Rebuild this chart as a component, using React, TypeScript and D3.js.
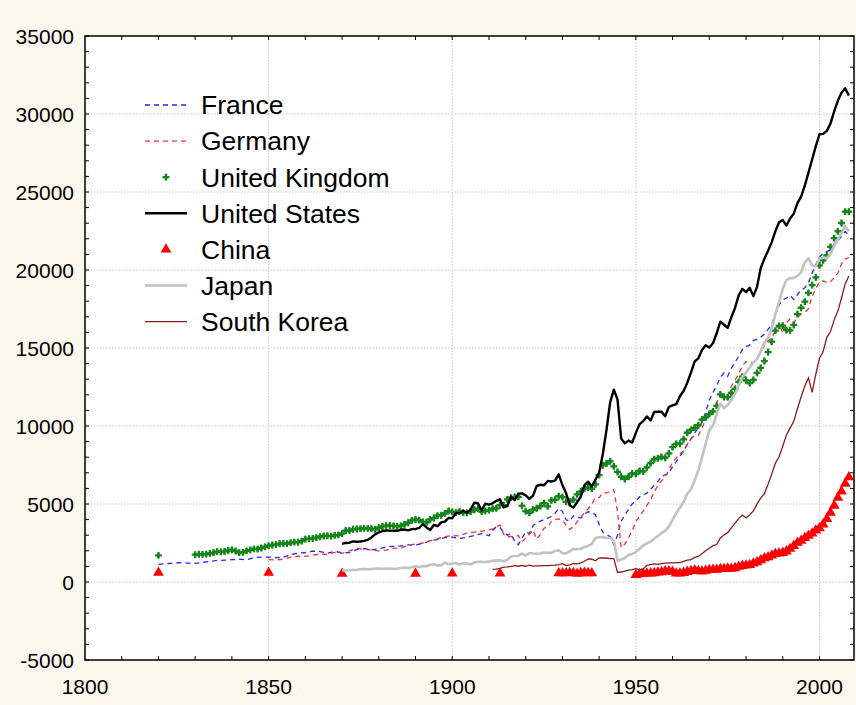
import React from "react";
import * as d3 from "d3";

// ---------- DATA (GDP per capita, 1990 GK$) ----------
const xTicks = [1800, 1850, 1900, 1950, 2000];
const yTicks = [-5000, 0, 5000, 10000, 15000, 20000, 25000, 30000, 35000];
const legendNames = ["France", "Germany", "United Kingdom", "United States", "China", "Japan", "South Korea"];

const franceData: [number, number][] = [
  [1820, 1135], [1822, 1180], [1824, 1200], [1826, 1240], [1828, 1210], [1830, 1191], [1832, 1260], [1834, 1320],
  [1836, 1380], [1838, 1400], [1840, 1428], [1842, 1460], [1844, 1420], [1846, 1560], [1848, 1600], [1850, 1597],
  [1852, 1560], [1854, 1580], [1856, 1760], [1858, 1850], [1860, 1892], [1862, 1980], [1864, 1950], [1866, 1850],
  [1868, 1960], [1870, 1876], [1872, 1880], [1874, 2080], [1876, 2140], [1878, 2060], [1880, 2120], [1882, 2250],
  [1884, 2290], [1886, 2300], [1888, 2380], [1890, 2376], [1892, 2460], [1894, 2660], [1896, 2720], [1898, 2850],
  [1900, 2876], [1902, 2800], [1904, 2860], [1906, 2990], [1908, 3100], [1910, 2965], [1911, 3300], [1912, 3545],
  [1913, 3485], [1914, 3200], [1915, 3000], [1916, 3100], [1917, 2600], [1918, 2396], [1919, 2800], [1920, 3227],
  [1921, 3100], [1922, 3600], [1923, 3800], [1924, 3900], [1925, 4000], [1926, 4100], [1927, 4200], [1928, 4400],
  [1929, 4710], [1930, 4530], [1931, 3990], [1932, 3900], [1933, 4250], [1934, 4150], [1935, 4100], [1936, 4350],
  [1937, 4500], [1938, 4466], [1939, 4300], [1940, 3700], [1941, 3200], [1942, 3050], [1943, 2900], [1944, 2400],
  [1945, 3000], [1946, 3900], [1947, 4300], [1948, 4650], [1949, 5000],
  [1950, 5186], [1951, 5461], [1952, 5588], [1953, 5698], [1954, 5938], [1955, 6199], [1956, 6452], [1957, 6770],
  [1958, 6876], [1959, 6991], [1960, 7398], [1961, 7718], [1962, 8061], [1963, 8382], [1964, 8828], [1965, 9165],
  [1966, 9536], [1967, 9885], [1968, 10255], [1969, 10872], [1970, 11664], [1971, 12151], [1972, 12578], [1973, 13114],
  [1974, 13402], [1975, 13183], [1976, 13698], [1977, 14076], [1978, 14462], [1979, 14897], [1980, 15106], [1981, 15180],
  [1982, 15486], [1983, 15546], [1984, 15685], [1985, 15900], [1986, 16196], [1987, 16515], [1988, 17181], [1989, 17754],
  [1990, 18093], [1991, 18203], [1992, 18368], [1993, 18108], [1994, 18427], [1995, 18705], [1996, 18860], [1997, 19182],
  [1998, 19800], [1999, 20332], [2000, 20808], [2001, 21092], [2002, 21197], [2003, 21259], [2004, 21657], [2005, 21867],
  [2006, 22150], [2007, 22469], [2008, 22223],
];

const germanyData: [number, number][] = [
  [1850, 1428], [1852, 1420], [1854, 1450], [1856, 1600], [1858, 1650], [1860, 1639], [1862, 1720], [1864, 1800],
  [1866, 1760], [1868, 1900], [1870, 1839], [1872, 2000], [1874, 2150], [1876, 2100], [1878, 2050], [1880, 1991],
  [1882, 2050], [1884, 2150], [1886, 2180], [1888, 2350], [1890, 2428], [1892, 2500], [1894, 2650], [1896, 2780],
  [1898, 2900], [1900, 2985], [1902, 2950], [1904, 3150], [1906, 3200], [1908, 3250], [1910, 3348], [1911, 3410],
  [1912, 3550], [1913, 3648], [1914, 3059], [1915, 2899], [1916, 2919], [1917, 2902], [1918, 2983], [1919, 2586],
  [1920, 2796], [1921, 3063], [1922, 3326], [1923, 2747], [1924, 3056], [1925, 3452], [1926, 3512], [1927, 3900],
  [1928, 4000], [1929, 4051], [1930, 3973], [1931, 3652], [1932, 3362], [1933, 3556], [1934, 3858], [1935, 4120],
  [1936, 4451], [1937, 4685], [1938, 4994], [1939, 5406], [1940, 5403], [1941, 5711], [1942, 5710], [1943, 5787],
  [1944, 5925], [1945, 4514], [1946, 2217], [1947, 2436], [1948, 2834], [1949, 3282],
  [1950, 3881], [1951, 4206], [1952, 4553], [1953, 4905], [1954, 5247], [1955, 5797], [1956, 6177], [1957, 6492],
  [1958, 6737], [1959, 7177], [1960, 7705], [1961, 7952], [1962, 8222], [1963, 8386], [1964, 8822], [1965, 9186],
  [1966, 9388], [1967, 9397], [1968, 9864], [1969, 10440], [1970, 10839], [1971, 11077], [1972, 11481], [1973, 11966],
  [1974, 11994], [1975, 11901], [1976, 12548], [1977, 12951], [1978, 13328], [1979, 13868], [1980, 14114], [1981, 14149],
  [1982, 14040], [1983, 14329], [1984, 14766], [1985, 15140], [1986, 15469], [1987, 15627], [1988, 16138], [1989, 16558],
  [1990, 15929], [1991, 16604], [1992, 16871], [1993, 16614], [1994, 16969], [1995, 17181], [1996, 17271], [1997, 17521],
  [1998, 18300], [1999, 18800], [2000, 19250], [2001, 19300], [2002, 19200], [2003, 19250], [2004, 19500], [2005, 19800],
  [2006, 20400], [2007, 20700], [2008, 20800],
];

const ukStart = 1830;
const ukFirstPoint: [number, number] = [1820, 1706];
const ukValues = [
  1749, 1780, 1770, 1790, 1830, 1880, 1950, 1930, 1960, 2020,
  2060, 1990, 1880, 1900, 2000, 2060, 2120, 2110, 2180, 2250,
  2330, 2370, 2400, 2450, 2470, 2460, 2520, 2560, 2550, 2620,
  2750, 2780, 2790, 2840, 2900, 2950, 2960, 2940, 2990, 3020,
  3100, 3300, 3300, 3380, 3400, 3420, 3440, 3440, 3420, 3380,
  3477, 3560, 3610, 3620, 3600, 3570, 3600, 3690, 3800, 3950,
  4009, 3970, 3850, 3830, 4010, 4100, 4250, 4280, 4400, 4550,
  4492, 4450, 4530, 4450, 4430, 4520, 4630, 4700, 4520, 4560,
  4611, 4700, 4720, 4921, 4930, 5290, 5410, 5450, 5459, 4880,
  4548, 4439, 4640, 4730, 4870, 5060, 4850, 5230, 5270, 5503,
  5441, 5138, 5148, 5277, 5620, 5800, 5990, 6060, 5983, 6262,
  6856, 7482, 7591, 7741, 7414, 7056, 6746, 6604, 6746, 6956,
  6939, 7123, 7091, 7346, 7619, 7868, 7929, 8017, 7966, 8240,
  8645, 8857, 8865, 9149, 9568, 9752, 9885, 10049, 10410, 10552,
  10767, 10941, 11294, 12025, 11859, 11847, 12115, 12384, 12828, 13167,
  12931, 12747, 12955, 13404, 13720, 14165, 14742, 15403, 16110, 16414,
  16430, 16146, 16133, 16477, 17175, 17581, 17974, 18533, 19032, 19524,
  20296, 20624, 20931, 21483, 22040, 22484, 23013, 23742, 23742,
];

const usStart = 1870;
const usValues = [
  2445, 2503, 2520, 2601, 2583, 2599, 2640, 2701, 2860, 3051,
  3184, 3268, 3301, 3295, 3285, 3281, 3348, 3363, 3313, 3393,
  3392, 3472, 3717, 3499, 3337, 3669, 3576, 3823, 3871, 4110,
  4091, 4434, 4409, 4567, 4439, 4642, 5076, 5052, 4585, 5017,
  4964, 5046, 5201, 5301, 4799, 4864, 5459, 5248, 5659, 5680,
  5552, 5323, 5540, 6164, 6233, 6198, 6481, 6445, 6494, 6899,
  6213, 5691, 4908, 4777, 5114, 5467, 6204, 6430, 6126, 6561,
  7010, 8206, 9741, 11518, 12333, 11709, 9197, 8886, 9065, 8944,
  9561, 10116, 10316, 10613, 10359, 10897, 10914, 10920, 10631, 11230,
  11328, 11402, 11905, 12242, 12773, 13419, 14134, 14330, 14863, 15179,
  15030, 15304, 15944, 16689, 16491, 16284, 16975, 17567, 18373, 18789,
  18577, 18856, 18325, 18920, 20123, 20717, 21236, 21788, 22499, 23059,
  23201, 22849, 23298, 23616, 24288, 24703, 25403, 26245, 27086, 27944,
  28702, 28726, 28920, 29388, 30175, 30842, 31358, 31655, 31178,
];

const chinaData: [number, number][] = [
  [1820, 600], [1850, 600], [1870, 530], [1890, 540], [1900, 545], [1913, 552],
  [1929, 562], [1930, 567], [1931, 569], [1932, 587], [1933, 578], [1934, 528], [1935, 575], [1936, 593], [1937, 573], [1938, 562],
  [1950, 448], [1951, 496], [1952, 538], [1953, 552], [1954, 556], [1955, 575], [1956, 619], [1957, 637], [1958, 693], [1959, 697],
  [1960, 662], [1961, 553], [1962, 550], [1963, 590], [1964, 654], [1965, 706], [1966, 753], [1967, 715], [1968, 678], [1969, 722],
  [1970, 778], [1971, 793], [1972, 796], [1973, 839], [1974, 836], [1975, 874], [1976, 852], [1977, 895], [1978, 978], [1979, 1039],
  [1980, 1061], [1981, 1091], [1982, 1186], [1983, 1265], [1984, 1396], [1985, 1522], [1986, 1597], [1987, 1706], [1988, 1816], [1989, 1827],
  [1990, 1871], [1991, 1967], [1992, 2132], [1993, 2312], [1994, 2515], [1995, 2653], [1996, 2820], [1997, 2973], [1998, 3117], [1999, 3300],
  [2000, 3450], [2001, 3700], [2002, 4050], [2003, 4450], [2004, 4900], [2005, 5400], [2006, 5800], [2007, 6300], [2008, 6725],
];

const japanStart = 1870;
const japanValues = [
  737, 740, 750, 770, 790, 820, 830, 820, 830, 860,
  863, 850, 860, 860, 850, 854, 900, 930, 900, 940,
  1012, 957, 1030, 1015, 1110, 1135, 1050, 1080, 1250, 1140,
  1180, 1220, 1120, 1200, 1190, 1130, 1260, 1300, 1290, 1280,
  1304, 1356, 1384, 1387, 1327, 1430, 1630, 1665, 1668, 1827,
  1696, 1860, 1831, 1809, 1831, 1885, 1872, 1870, 1991, 2026,
  1850, 1837, 1962, 2122, 2098, 2120, 2244, 2315, 2449, 2816,
  2874, 2873, 2818, 2822, 2659, 1346, 1444, 1541, 1725, 1800,
  1921, 2126, 2336, 2474, 2582, 2771, 2948, 3136, 3289, 3554,
  3986, 4426, 4777, 5129, 5668, 5934, 6506, 7152, 7983, 8874,
  9714, 10040, 10734, 11434, 11145, 11344, 11669, 12064, 12585, 13163,
  13428, 13754, 14078, 14307, 14773, 15331, 15679, 16251, 17185, 17943,
  18789, 19355, 19482, 19478, 19626, 19849, 20494, 20739, 20296, 20219,
  20738, 20781, 20751, 21025, 21540, 21929, 22386, 22816, 22468,
];

const koreaStart = 1911;
const koreaValues = [
  815, 822, 869, 948, 966, 1003, 1052, 1010, 1060,
  1009, 1079, 1021, 1033, 1030, 1050, 1048, 1072, 1087, 1117,
  1173, 1048, 1090, 1186, 1168, 1227, 1329, 1482, 1459, 1363,
  1550, 1538, 1537, 1505, 1497, 616, 640, 700, 760, 800,
  854, 799, 836, 1072, 1115, 1156, 1132, 1182, 1216, 1226,
  1226, 1247, 1245, 1316, 1396, 1436, 1580, 1640, 1809, 2000,
  2167, 2328, 2404, 2824, 3015, 3162, 3476, 3775, 4064, 4294,
  4114, 4302, 4557, 5007, 5375, 5670, 6263, 6916, 7621, 8027,
  8704, 9425, 9863, 10300, 11104, 11873, 12559, 13083, 12151, 13318,
  14343, 14773, 15684, 16052, 16804, 17364, 18202, 19107, 19614,
];

// ---------- LAYOUT ----------
const W = 856;
const H = 705;
const L = 85, R = 854, T = 36, B = 660;
const FONT = "'Liberation Sans', Arial, sans-serif";

const x = d3.scaleLinear().domain([1800, 2009.4]).range([L, R]);
const y = d3.scaleLinear().domain([-5000, 35000]).range([B, T]);

const toPairs = (start: number, vals: number[]): [number, number][] => vals.map((v, i) => [start + i, v]);

const ukData: [number, number][] = [ukFirstPoint, ...toPairs(ukStart, ukValues)];
const usData = toPairs(usStart, usValues);
const japanData = toPairs(japanStart, japanValues);
const koreaData = toPairs(koreaStart, koreaValues);

const line = d3.line<[number, number]>().x((d) => x(d[0])).y((d) => y(d[1]));

const COLORS = {
  france: "#2626ff",
  germany: "#f0303a",
  uk: "#14861a",
  us: "#000000",
  china: "#ff0000",
  japan: "#c2c2c2",
  korea: "#8b1c1c",
};

const crossPath = d3.symbol(d3.symbolCross, 26)() as string;
const diamondPath = d3.symbol(d3.symbolDiamond, 14)() as string;
const triPath = d3.symbol(d3.symbolTriangle, 50)() as string;

function UKMarker({ tx, ty }: { tx: number; ty: number }) {
  return (
    <g transform={`translate(${tx},${ty})`}>
      <path d={crossPath} />
      <path d={diamondPath} />
    </g>
  );
}

export default function App() {
  const xMinor = d3.range(1810, 2009, 10);
  const yMinor = d3.range(-5000, 35001, 1000);
  const xGrid = xTicks.filter((t) => t > 1800);
  const yGrid = yTicks.filter((t) => t > -5000 && t < 35000);

  const legendY = (i: number) => 105 + i * 36.1;

  return (
    <svg width={W} height={H} style={{ position: "absolute", left: 0, top: 0, display: "block" }} fontFamily={FONT}>
      <rect x={0} y={0} width={W} height={H} fill="#fcf8ee" />
      <rect x={L} y={T} width={R - L} height={B - T} fill="#ffffff" />

      {/* grid */}
      {xGrid.map((t) => (
        <line key={"gx" + t} x1={x(t)} x2={x(t)} y1={T} y2={B} stroke="#bdbdbd" strokeWidth={0.8} strokeDasharray="1.5,1.5" />
      ))}
      {yGrid.map((t) => (
        <line key={"gy" + t} x1={L} x2={R} y1={y(t)} y2={y(t)} stroke="#bdbdbd" strokeWidth={0.8} strokeDasharray="1.5,1.5" />
      ))}

      {/* series */}
      <path d={line(franceData) as string} fill="none" stroke={COLORS.france} strokeWidth={1.3} strokeDasharray="5,4" />
      <path d={line(germanyData) as string} fill="none" stroke={COLORS.germany} strokeWidth={1.3} strokeDasharray="5,4" />
      <g fill={COLORS.uk}>
        {ukData.map((d, i) => (
          <UKMarker key={"uk" + i} tx={x(d[0])} ty={y(d[1])} />
        ))}
      </g>
      <path d={line(usData) as string} fill="none" stroke={COLORS.us} strokeWidth={2.4} strokeLinejoin="round" />
      <g fill={COLORS.china}>
        {chinaData.map((d, i) => (
          <path key={"cn" + i} d={triPath} transform={`translate(${x(d[0])},${y(d[1])})`} />
        ))}
      </g>
      <path d={line(japanData) as string} fill="none" stroke={COLORS.japan} strokeWidth={2.6} strokeLinejoin="round" />
      <path d={line(koreaData) as string} fill="none" stroke={COLORS.korea} strokeWidth={1.3} />

      {/* frame & ticks */}
      <rect x={L} y={T} width={R - L} height={B - T} fill="none" stroke="#000" strokeWidth={1.5} />
      {xMinor.map((t) => (
        <g key={"tx" + t}>
          <line x1={x(t)} x2={x(t)} y1={T} y2={T + 4} stroke="#000" strokeWidth={1} />
          <line x1={x(t)} x2={x(t)} y1={B} y2={B - 4} stroke="#000" strokeWidth={1} />
        </g>
      ))}
      {yMinor.map((t) => (
        <g key={"ty" + t}>
          <line x1={L} x2={L + 4} y1={y(t)} y2={y(t)} stroke="#000" strokeWidth={1} />
          <line x1={R} x2={R - 4} y1={y(t)} y2={y(t)} stroke="#000" strokeWidth={1} />
        </g>
      ))}

      {/* tick labels */}
      {yTicks.map((t) => (
        <text key={"ly" + t} x={74} y={y(t) + 7.5} textAnchor="end" fontSize={21} fill="#000">
          {t}
        </text>
      ))}
      {xTicks.map((t) => (
        <text key={"lx" + t} x={x(t)} y={694} textAnchor="middle" fontSize={21} fill="#000">
          {t}
        </text>
      ))}

      {/* legend */}
      <g>
        <line x1={145} x2={187} y1={legendY(0)} y2={legendY(0)} stroke={COLORS.france} strokeWidth={1.3} strokeDasharray="5,4" />
        <line x1={145} x2={187} y1={legendY(1)} y2={legendY(1)} stroke={COLORS.germany} strokeWidth={1.3} strokeDasharray="5,4" />
        <g fill={COLORS.uk}>
          <UKMarker tx={166} ty={legendY(2)} />
        </g>
        <line x1={145} x2={187} y1={legendY(3)} y2={legendY(3)} stroke={COLORS.us} strokeWidth={2.4} />
        <path d={triPath} fill={COLORS.china} transform={`translate(166,${legendY(4)})`} />
        <line x1={145} x2={187} y1={legendY(5)} y2={legendY(5)} stroke={COLORS.japan} strokeWidth={2.6} />
        <line x1={145} x2={187} y1={legendY(6)} y2={legendY(6)} stroke={COLORS.korea} strokeWidth={1.3} />
        {legendNames.map((n, i) => (
          <text key={n} x={201} y={legendY(i) + 9.3} fontSize={26.5} fill="#000">
            {n}
          </text>
        ))}
      </g>
    </svg>
  );
}
